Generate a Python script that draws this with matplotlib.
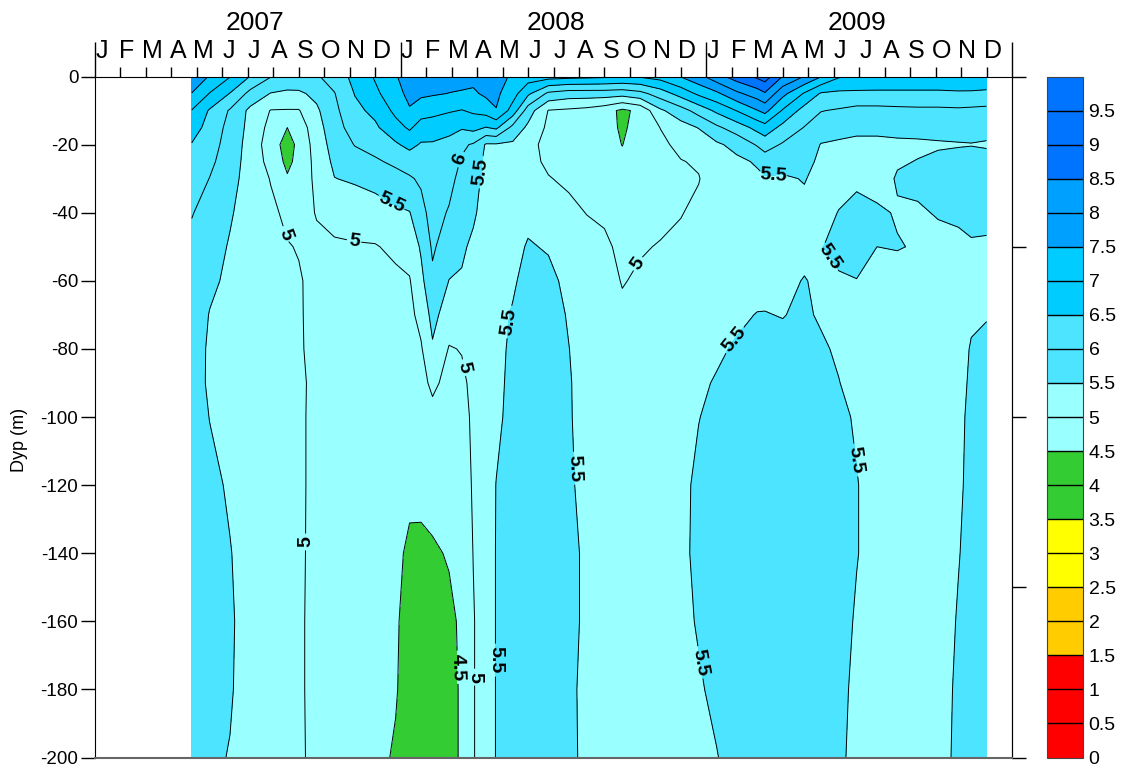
import numpy as np
import matplotlib
matplotlib.use("Agg")
import matplotlib.pyplot as plt
from matplotlib.transforms import blended_transform_factory

# sampling times, months after 1 Jan 2007
times = [3.8, 4.5, 5.3, 6.1, 6.9, 7.55, 8.0, 8.7, 9.4, 10.2, 11.0, 11.8, 12.35, 12.8, 13.25,
         13.9, 14.4, 14.85, 15.35, 15.75, 16.4, 17.0, 17.8, 18.6, 19.3, 20.0, 20.7, 21.4,
         22.2, 23.0, 23.7, 24.4, 25.2, 26.0, 26.3, 27.0, 27.85, 28.5, 29.2, 29.9, 30.7,
         31.5, 32.3, 33.1, 33.9, 34.4, 35.0]
depths = [0, 5, 10, 15, 20, 25, 30, 40, 50, 60, 70, 80, 90, 100, 120, 140, 160, 180, 200]

# values per depth, one per sampling time
val_000 = [8.0, 7.45, 7.02, 6.48, 6.02, 5.88, 5.85, 5.95, 6.2, 6.65, 7.05, 7.45, 7.8, 7.78, 7.75, 7.7, 7.7, 7.65, 7.9, 7.75, 7.4, 7.25, 7.2, 7.15, 7.12, 7.08, 7.03, 7.05, 7.2, 7.52, 7.85, 8.3, 8.75, 9.1, 9.25, 8.48, 7.98, 7.52, 7.05, 6.95, 6.9, 6.9, 6.9, 6.9, 6.95, 7.02, 7.02]
val_005 = [7.48, 6.98, 6.48, 5.85, 5.48, 5.4, 5.42, 5.62, 5.98, 6.52, 6.9, 7.3, 7.65, 7.6, 7.55, 7.49, 7.45, 7.42, 7.6, 7.6, 7.2, 6.6, 5.9, 5.75, 5.75, 5.75, 5.7, 5.85, 6.25, 6.7, 7.1, 7.4, 7.9, 8.25, 8.45, 7.65, 6.95, 6.45, 6.4, 6.4, 6.4, 6.4, 6.4, 6.4, 6.42, 6.4, 6.35]
val_010 = [6.98, 6.45, 5.95, 5.38, 4.98, 4.97, 4.97, 5.42, 5.88, 6.38, 6.62, 7.12, 7.45, 7.2, 7.15, 7.05, 6.98, 7.08, 7.2, 7.48, 6.8, 5.75, 4.98, 4.92, 4.85, 4.7, 4.4, 4.62, 5.42, 5.8, 6.2, 6.6, 7.02, 7.48, 7.65, 6.95, 6.3, 6.02, 5.95, 5.85, 5.85, 5.88, 5.9, 5.9, 5.92, 5.9, 5.88]
val_015 = [6.75, 6.3, 5.85, 5.35, 4.85, 4.5, 4.72, 5.3, 5.8, 6.22, 6.42, 6.82, 7.07, 6.8, 6.75, 6.62, 6.55, 6.65, 6.48, 6.6, 5.85, 5.4, 4.9, 4.82, 4.75, 4.72, 4.42, 4.7, 5.01, 5.3, 5.52, 5.9, 6.25, 6.65, 6.8, 6.35, 5.98, 5.75, 5.62, 5.58, 5.58, 5.58, 5.6, 5.6, 5.62, 5.6, 5.6]
val_020 = [6.47, 6.2, 5.8, 5.3, 4.75, 4.3, 4.62, 5.22, 5.7, 6.02, 6.18, 6.43, 6.65, 6.45, 6.45, 6.38, 6.08, 5.95, 5.45, 5.45, 5.42, 5.15, 4.85, 4.8, 4.72, 4.7, 4.49, 4.75, 4.9, 5.12, 5.2, 5.42, 5.65, 6.05, 6.2, 5.95, 5.8, 5.48, 5.45, 5.42, 5.42, 5.45, 5.45, 5.47, 5.48, 5.49, 5.47]
val_025 = [6.35, 6.1, 5.75, 5.28, 4.85, 4.38, 4.65, 5.15, 5.6, 5.8, 5.93, 6.1, 6.2, 6.25, 6.35, 6.25, 5.95, 5.85, 5.35, 5.4, 5.35, 5.12, 4.93, 4.85, 4.75, 4.72, 4.6, 4.78, 4.85, 4.98, 5.05, 5.3, 5.4, 5.55, 5.75, 5.65, 5.65, 5.4, 5.4, 5.4, 5.35, 5.47, 5.51, 5.56, 5.6, 5.6, 5.6]
val_030 = [6.25, 5.99, 5.7, 5.25, 4.98, 4.55, 4.72, 5.1, 5.49, 5.56, 5.65, 5.82, 5.95, 6.07, 6.28, 6.14, 5.85, 5.75, 5.3, 5.35, 5.3, 5.15, 5.02, 4.93, 4.82, 4.78, 4.68, 4.82, 4.85, 4.93, 4.98, 5.25, 5.3, 5.42, 5.45, 5.45, 5.52, 5.38, 5.4, 5.45, 5.35, 5.53, 5.6, 5.62, 5.65, 5.65, 5.65]
val_040 = [6.02, 5.85, 5.56, 5.22, 5.08, 4.92, 4.85, 5.02, 5.15, 5.22, 5.3, 5.42, 5.48, 5.85, 6.18, 5.96, 5.7, 5.58, 5.28, 5.3, 5.3, 5.35, 5.25, 5.1, 4.99, 4.93, 4.8, 4.9, 4.92, 4.98, 5.1, 5.25, 5.25, 5.35, 5.38, 5.35, 5.4, 5.4, 5.51, 5.58, 5.56, 5.47, 5.45, 5.53, 5.56, 5.58, 5.6]
val_050 = [5.9, 5.75, 5.45, 5.2, 5.12, 5.02, 4.98, 4.93, 4.94, 4.96, 4.97, 5.1, 5.18, 5.56, 6.07, 5.74, 5.58, 5.4, 5.25, 5.3, 5.32, 5.55, 5.45, 5.25, 5.15, 5.08, 4.9, 4.97, 5.02, 5.1, 5.22, 5.3, 5.28, 5.35, 5.38, 5.35, 5.38, 5.48, 5.62, 5.65, 5.5, 5.52, 5.47, 5.38, 5.42, 5.47, 5.45]
val_060 = [5.85, 5.6, 5.4, 5.2, 5.15, 5.07, 5.03, 4.9, 4.88, 4.87, 4.85, 4.9, 4.97, 5.37, 5.9, 5.49, 5.45, 5.3, 5.22, 5.3, 5.42, 5.7, 5.65, 5.35, 5.22, 5.15, 4.98, 5.05, 5.1, 5.2, 5.3, 5.35, 5.35, 5.4, 5.42, 5.4, 5.52, 5.42, 5.45, 5.49, 5.38, 5.35, 5.3, 5.3, 5.38, 5.42, 5.42]
val_070 = [5.8, 5.48, 5.35, 5.2, 5.15, 5.07, 5.04, 4.88, 4.85, 4.83, 4.8, 4.82, 4.88, 5.15, 5.65, 5.25, 5.2, 5.22, 5.22, 5.3, 5.55, 5.75, 5.75, 5.45, 5.25, 5.2, 5.07, 5.12, 5.15, 5.25, 5.36, 5.4, 5.45, 5.51, 5.51, 5.49, 5.55, 5.46, 5.4, 5.38, 5.32, 5.3, 5.28, 5.28, 5.38, 5.46, 5.48]
val_080 = [5.78, 5.42, 5.35, 5.2, 5.15, 5.07, 5.04, 4.9, 4.85, 4.82, 4.78, 4.8, 4.82, 4.95, 5.44, 4.97, 5.02, 5.15, 5.22, 5.32, 5.62, 5.78, 5.8, 5.51, 5.25, 5.2, 5.12, 5.15, 5.18, 5.3, 5.42, 5.46, 5.53, 5.58, 5.6, 5.58, 5.62, 5.55, 5.45, 5.35, 5.3, 5.28, 5.27, 5.28, 5.4, 5.52, 5.58]
val_090 = [5.75, 5.42, 5.35, 5.2, 5.15, 5.07, 5.03, 4.96, 4.87, 4.82, 4.77, 4.78, 4.78, 4.85, 5.1, 4.85, 4.92, 5.1, 5.22, 5.35, 5.65, 5.8, 5.82, 5.55, 5.25, 5.2, 5.15, 5.17, 5.2, 5.33, 5.46, 5.52, 5.6, 5.65, 5.68, 5.65, 5.68, 5.62, 5.51, 5.38, 5.3, 5.28, 5.27, 5.3, 5.42, 5.54, 5.62]
val_100 = [5.75, 5.49, 5.38, 5.2, 5.15, 5.07, 5.02, 4.97, 4.88, 4.83, 4.76, 4.76, 4.72, 4.8, 4.85, 4.8, 4.88, 5.06, 5.25, 5.4, 5.65, 5.8, 5.82, 5.56, 5.25, 5.2, 5.15, 5.17, 5.2, 5.35, 5.49, 5.6, 5.65, 5.7, 5.74, 5.72, 5.72, 5.68, 5.6, 5.45, 5.3, 5.28, 5.27, 5.32, 5.45, 5.55, 5.65]
val_120 = [5.75, 5.62, 5.44, 5.25, 5.15, 5.07, 5.02, 4.97, 4.87, 4.82, 4.72, 4.7, 4.6, 4.62, 4.65, 4.68, 4.8, 5.04, 5.25, 5.51, 5.68, 5.8, 5.82, 5.6, 5.3, 5.2, 5.15, 5.17, 5.2, 5.4, 5.58, 5.68, 5.72, 5.78, 5.82, 5.8, 5.78, 5.75, 5.68, 5.52, 5.32, 5.3, 5.28, 5.35, 5.47, 5.55, 5.68]
val_140 = [5.75, 5.65, 5.52, 5.3, 5.18, 5.07, 5.03, 4.95, 4.85, 4.78, 4.62, 4.6, 4.42, 4.4, 4.45, 4.53, 4.68, 5.01, 5.25, 5.52, 5.7, 5.8, 5.82, 5.62, 5.42, 5.2, 5.15, 5.17, 5.2, 5.4, 5.6, 5.7, 5.75, 5.8, 5.85, 5.82, 5.8, 5.78, 5.7, 5.52, 5.32, 5.3, 5.28, 5.38, 5.49, 5.57, 5.7]
val_160 = [5.75, 5.65, 5.56, 5.3, 5.2, 5.07, 5.03, 4.94, 4.84, 4.74, 4.6, 4.55, 4.35, 4.3, 4.32, 4.42, 4.56, 4.97, 5.25, 5.52, 5.7, 5.8, 5.82, 5.62, 5.42, 5.2, 5.15, 5.17, 5.2, 5.38, 5.54, 5.68, 5.75, 5.8, 5.85, 5.82, 5.8, 5.78, 5.68, 5.45, 5.3, 5.3, 5.28, 5.38, 5.52, 5.6, 5.7]
val_180 = [5.75, 5.62, 5.54, 5.3, 5.2, 5.07, 5.03, 4.94, 4.84, 4.72, 4.6, 4.53, 4.33, 4.28, 4.3, 4.4, 4.54, 4.97, 5.25, 5.52, 5.7, 5.8, 5.82, 5.6, 5.38, 5.2, 5.15, 5.17, 5.2, 5.35, 5.45, 5.6, 5.72, 5.78, 5.83, 5.8, 5.8, 5.75, 5.62, 5.4, 5.3, 5.3, 5.28, 5.38, 5.55, 5.62, 5.7]
val_200 = [5.7, 5.58, 5.48, 5.25, 5.18, 5.07, 5.03, 4.95, 4.85, 4.72, 4.6, 4.46, 4.33, 4.28, 4.3, 4.4, 4.54, 4.97, 5.25, 5.52, 5.7, 5.8, 5.82, 5.6, 5.4, 5.2, 5.15, 5.17, 5.2, 5.32, 5.42, 5.48, 5.68, 5.75, 5.8, 5.78, 5.78, 5.72, 5.58, 5.38, 5.3, 5.3, 5.3, 5.38, 5.57, 5.62, 5.7]

levels = np.arange(0, 10.01, 0.5)
band_colors = ['#FF0000', '#FF0000', '#FF0000', '#FFCC00', '#FFCC00', '#FFFF00', '#FFFF00',
               '#33CC33', '#33CC33', '#99FFFF', '#99FFFF', '#4DE4FF', '#4DE4FF', '#00CCFF',
               '#00CCFF', '#00A0FF', '#00A0FF', '#0073FF', '#0073FF', '#0073FF']

month_letters = ['J', 'F', 'M', 'A', 'M', 'J', 'J', 'A', 'S', 'O', 'N', 'D']
years = [2007, 2008, 2009]

# contour labels: level -> positions (months, -depth)
label_spots = {
    4.5: [(14.2, -173.5)],
    5.0: [(7.58, -46), (10.2, -47.1), (21.28, -54.8), (14.6, -85.3), (8.3, -136.7), (14.9, -176.4)],
    5.5: [(11.78, -34.8), (15.1, -28), (26.6, -27), (28.78, -53.3), (16.2, -72), (25.2, -78),
          (18.9, -115), (29.9, -112.6), (15.7, -171.4), (23.8, -172)],
    6.0: [(14.4, -24.5)],
}

plt.rcParams['font.family'] = ['Liberation Sans', 'DejaVu Sans']

grid = np.array([val_000, val_005, val_010, val_015, val_020, val_025, val_030, val_040,
                 val_050, val_060, val_070, val_080, val_090, val_100, val_120, val_140,
                 val_160, val_180, val_200])
T, D = np.meshgrid(times, depths)

W, H = 1121, 767
fig = plt.figure(figsize=(W / 100, H / 100), dpi=100)
ax = fig.add_axes([95 / W, 1 - 757.5 / H, (1012 - 95) / W, (757.5 - 76.5) / H])

cf = ax.contourf(T, -D, grid, levels=levels, colors=band_colors)

# unlabelled lines in one set, each labelled level in its own set
plain = [v for v in levels if v not in label_spots]
ax.contour(T, -D, grid, levels=plain, colors='black', linewidths=0.7)
for lev, spots in label_spots.items():
    cs = ax.contour(T, -D, grid, levels=[lev], colors='black', linewidths=0.7)
    cs.clabel(manual=spots, fmt='%g', fontsize=14, inline=True, inline_spacing=3)
    for t in cs.labelTexts:
        t.set_fontweight('bold')

ax.set_xlim(0, 36)
ax.set_ylim(-200, 0)

# top axis: months
ax.xaxis.set_ticks_position('top')
ax.set_xticks([0, 12, 24, 36])
ax.set_xticks(range(37), minor=True)
ax.tick_params(axis='x', which='major', length=25, width=1, direction='out',
               labeltop=False, labelbottom=False)
ax.tick_params(axis='x', which='minor', length=7, width=1, direction='out')

trans = blended_transform_factory(ax.transData, ax.transAxes)
year_x = [6.3, 18.1, 29.9]
for i, yr in enumerate(years):
    for m, letter in enumerate(month_letters):
        ax.annotate(letter, xy=(12 * i + m + 0.25, 1), xycoords=trans, xytext=(0, 19),
                    textcoords='offset pixels', ha='center', va='baseline', fontsize=18,
                    annotation_clip=False)
    ax.annotate(str(yr), xy=(year_x[i], 1), xycoords=trans, xytext=(0, 47),
                textcoords='offset pixels', ha='center', va='baseline', fontsize=19,
                annotation_clip=False)

# left axis: depth
yt = list(range(-200, 1, 20))
ax.set_yticks(yt)
ax.set_yticklabels([str(v) for v in yt])
ax.tick_params(axis='y', left=True, right=False, length=10, width=1, labelsize=13.5, pad=2)

sec = ax.secondary_yaxis('right')
sec.set_yticks([0, -50, -100, -150, -200])
sec.tick_params(length=10, width=1, labelright=False)

ax.spines['bottom'].set_color('#666666')
ax.spines['bottom'].set_linewidth(1.5)

fig.text(20 / W, 1 - 440 / H, 'Dyp (m)', rotation=90, ha='center', va='center', fontsize=13)

# colour bar
cax = fig.add_axes([1047 / W, 1 - 757.5 / H, 36 / W, 681 / H])
cb = fig.colorbar(cf, cax=cax, drawedges=True, ticks=levels[:-1])
cb.ax.set_yticklabels(['%g' % v for v in levels[:-1]])
cb.ax.tick_params(length=0, labelsize=14, pad=4)
cb.outline.set_edgecolor('#444444')
cb.dividers.set_color('black')
cb.dividers.set_linewidth(1)

fig.savefig('out.png', dpi=100)
